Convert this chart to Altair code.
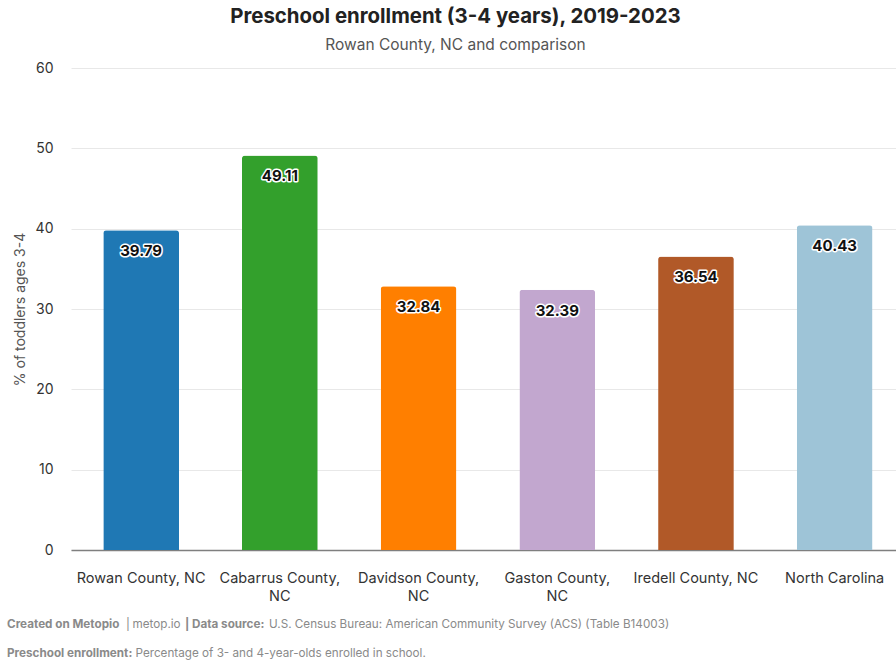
import altair as alt
import pandas as pd

# Preschool enrollment (share of 3- and 4-year-olds in school), ACS 2019-2023
places = [
    "Rowan County, NC",
    "Cabarrus County, NC",
    "Davidson County, NC",
    "Gaston County, NC",
    "Iredell County, NC",
    "North Carolina",
]
enrolled_pct = [39.79, 49.11, 32.84, 32.39, 36.54, 40.43]
bar_colors = ["#1f78b4", "#33a02c", "#ff7f00", "#c2a7cf", "#b15928", "#9ec4d7"]
# labels that break onto a second line under their bar
wrapped = ["Cabarrus County, NC", "Davidson County, NC", "Gaston County, NC"]
y_ticks = [0, 10, 20, 30, 40, 50, 60]

FONT = "Inter"
df = pd.DataFrame({"place": places, "pct": enrolled_pct})

W, H = 825, 482
LEFT, TOP = 71, 68

wrap_list = "[" + ",".join(f"'{w}'" for w in wrapped) + "]"
label_expr = (
    f"indexof({wrap_list}, datum.label) >= 0 "
    "? [replace(datum.label, ', NC', ','), 'NC'] : datum.label"
)

x_enc = alt.X(
    "place:N",
    sort=None,
    scale=alt.Scale(paddingInner=0.454, paddingOuter=0.201, align=0.579),
    axis=alt.Axis(
        title=None,
        labelAngle=0,
        labelFontSize=14.5,
        labelFont=FONT,
        labelColor="#333333",
        labelPadding=21,
        labelLineHeight=18,
        labelExpr=label_expr,
        ticks=False,
        domainColor="#7f7f7f",
        domainWidth=1.5,
        grid=False,
    ),
)
y_enc = alt.Y(
    "pct:Q",
    scale=alt.Scale(domain=[0, 60], nice=False),
    axis=alt.Axis(
        title="% of toddlers ages 3-4",
        titleFont=FONT,
        titleFontSize=14,
        titleFontWeight="normal",
        titleColor="#555555",
        titlePadding=8,
        values=y_ticks,
        labelFontSize=14,
        labelFont=FONT,
        labelColor="#333333",
        labelPadding=18,
        ticks=False,
        domain=False,
        gridColor="#e8e8e8",
        gridWidth=1,
    ),
)

base = alt.Chart(df).encode(x=x_enc, y=y_enc)

bars = base.mark_bar(cornerRadiusTopLeft=3, cornerRadiusTopRight=3).encode(
    color=alt.Color(
        "place:N",
        sort=None,
        scale=alt.Scale(domain=places, range=bar_colors),
        legend=None,
    ),
)

value_text = alt.Text("pct:Q", format=".2f")
halo = base.mark_text(
    font=FONT, fontSize=15, fontWeight="bold", dy=21,
    stroke="white", strokeWidth=3, strokeJoin="round", fill="white",
).encode(text=value_text)

values = base.mark_text(
    font=FONT, fontSize=15, fontWeight="bold", dy=21, color="#111111",
).encode(text=value_text)


def note(text, x, y, bold=False):
    return alt.Chart(pd.DataFrame({"t": [text]})).mark_text(
        font=FONT, fontSize=11.7, fontWeight="bold" if bold else "normal",
        color="#8a8a8a", align="left", baseline="middle",
    ).encode(text="t:N", x=alt.value(x - LEFT), y=alt.value(y - TOP))


footer = [
    note("Created on Metopio", 7, 624, True),
    note("|", 126, 624),
    note("metop.io", 132.5, 624),
    note("|", 185, 624, True),
    note("Data source:", 192, 624, True),
    note("U.S. Census Bureau: American Community Survey (ACS) (Table B14003)", 269, 624),
    note("Preschool enrollment:", 7, 653, True),
    note("Percentage of 3- and 4-year-olds enrolled in school.", 135.5, 653),
]

chart = alt.layer(bars, halo, values, *footer).properties(
    width=W,
    height=H,
    autosize=alt.AutoSizeParams(type="none"),
    padding={"left": LEFT, "top": TOP, "right": 0, "bottom": 663 - TOP - H},
    background="white",
    title=alt.TitleParams(
        text="Preschool enrollment (3-4 years), 2019-2023",
        subtitle="Rowan County, NC and comparison",
        font=FONT,
        fontSize=20.4,
        fontWeight="bold",
        color="#222222",
        subtitleFont=FONT,
        subtitleFontSize=15.5,
        subtitleColor="#555555",
        subtitlePadding=10,
        anchor="middle",
        dx=-28,
        offset=8,
    ),
).configure_view(stroke=None)

chart.save("out.html", embed_options={"renderer": "svg", "actions": False})
